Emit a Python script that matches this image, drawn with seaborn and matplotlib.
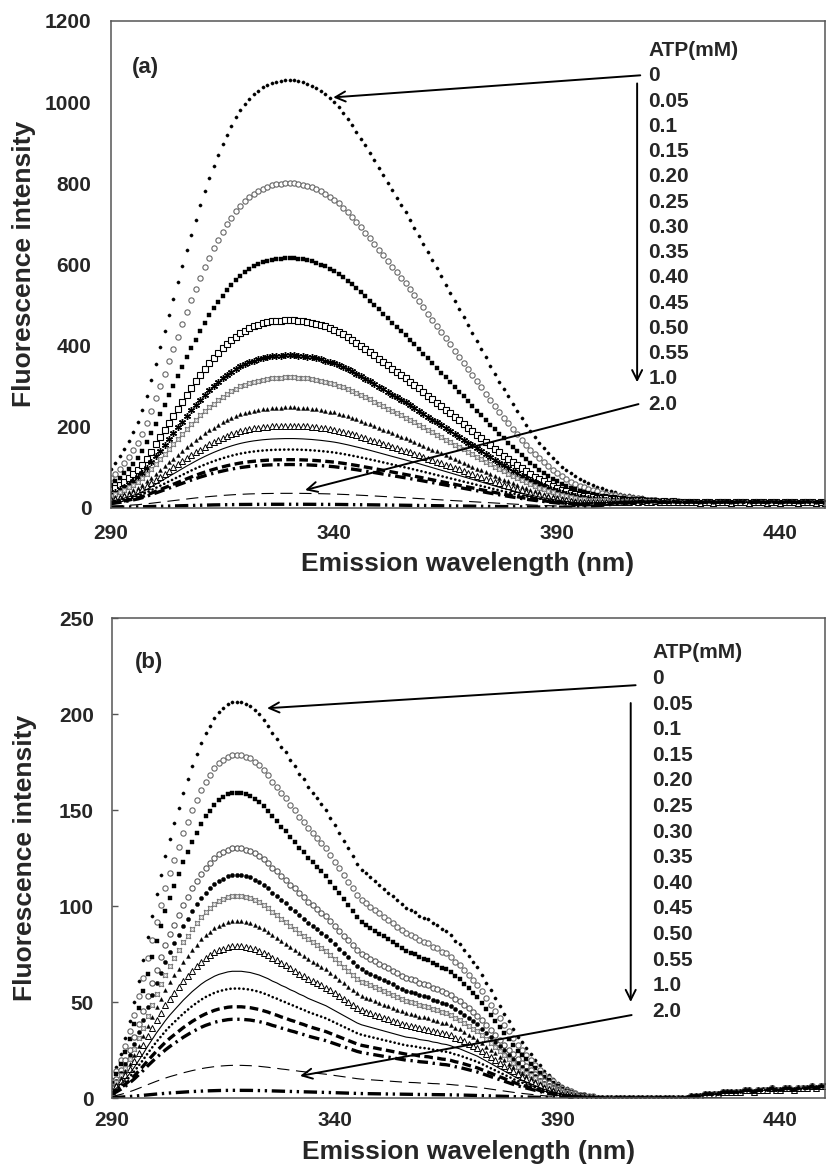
import numpy as np
import matplotlib
matplotlib.use("Agg")
import matplotlib.pyplot as plt
import seaborn as sns

# ---------------- data ----------------
wavelength = np.arange(290, 451)          # nm, 1 nm steps (290..450)
atp_labels = ["0", "0.05", "0.1", "0.15", "0.20", "0.25", "0.30", "0.35",
              "0.40", "0.45", "0.50", "0.55", "1.0", "2.0"]

# peak fluorescence of every ATP concentration
a_peak = [1054, 800, 615, 462, 375, 321, 247, 202, 170, 143, 118, 106, 35, 8]
b_peak = [206, 178.6, 159, 130, 116, 105, 92, 79, 66, 57, 47.5, 41, 17, 4]

# emission profile, panel (a), 290..420 nm
a_shape_vals = [
    96, 110, 126, 144, 164, 186, 210, 240, 275, 315,
    355, 395, 435, 475, 515, 555, 595, 635, 673, 710,
    746, 780, 812, 842, 870, 896, 920, 942, 962, 980,
    995, 1008, 1019, 1028, 1036, 1042, 1047, 1050, 1052, 1054,
    1054, 1054, 1052, 1049, 1045, 1040, 1034, 1027, 1019, 1010,
    1000, 988, 974, 959, 943, 927, 910, 893, 875, 857,
    838, 819, 800, 782, 764, 746, 728, 709, 690, 670,
    650, 630, 610, 590, 570, 550, 530, 510, 490, 470,
    450, 430, 410, 390, 370, 350, 330, 310, 292, 274,
    256, 238, 220, 203, 188, 174, 160, 147, 134, 122,
    111, 101, 92, 84, 77, 70, 64, 58, 52, 47,
    42, 37, 33, 29, 25, 22, 19, 16, 14, 12,
    10, 8, 7, 6, 5, 4, 3, 3, 2, 2, 1]
# noise floor shared by all curves in (a), 396..450 nm
a_floor_vals = [1, 2, 3, 4, 5, 6, 7, 8, 9, 10,
                11, 12, 12, 13, 12, 13, 14, 12, 13, 12,
                14, 13, 12, 13, 14, 13, 12, 13, 14, 12,
                13, 13, 14, 12, 13, 14, 13, 12, 13, 14,
                13, 12, 14, 13, 12, 13, 14, 13, 12, 13,
                14, 13, 12, 13, 12]

# emission profile, panel (b), 290..399 nm
b_shape_vals = [
    10, 16, 23, 31, 40, 50, 61, 72, 84, 95,
    106, 116, 126, 135, 143, 151, 159, 166, 173, 179,
    185, 190, 194, 198, 201, 203, 205, 206, 206, 206,
    205, 204, 202, 200, 197, 194, 190, 187, 183, 180,
    176, 173, 169, 166, 162, 159, 156, 153, 150, 146,
    142, 138, 134, 130, 126, 122, 119, 117, 115, 113,
    111, 109, 107, 105, 103, 101, 99, 98, 97, 95,
    94, 93, 91, 90, 88, 87, 85, 82, 80, 77,
    74, 71, 68, 64, 60, 56, 52, 48, 44, 40,
    36, 32, 29, 26, 23, 20, 17, 14, 12, 10,
    8, 6, 5, 4, 3, 2, 2, 1, 1, 0]
# noise floor shared by all curves in (b), 420..450 nm
b_floor_vals = [1, 1, 1, 2, 2, 2, 2, 3, 3, 3,
                3, 3, 4, 4, 3, 4, 4, 4, 5, 4,
                4, 5, 5, 4, 5, 5, 5, 6, 5, 6, 6]

x_ticks = [290, 340, 390, 440]
a_yticks = [0, 200, 400, 600, 800, 1000, 1200]
b_yticks = [0, 50, 100, 150, 200, 250]


def place(vals, start):
    """put a list of values measured from wavelength `start` onto the full grid"""
    out = np.zeros(len(wavelength))
    i0 = int(start - wavelength[0])
    v = np.asarray(vals, dtype=float)[: len(wavelength) - i0]
    out[i0:i0 + len(v)] = v
    return out


a_shape = place(a_shape_vals, 290)
a_shape /= a_shape.max()
a_floor = place(a_floor_vals, 396)
b_shape = place(b_shape_vals, 290)
b_shape /= b_shape.max()
b_floor = place(b_floor_vals, 420)

# ---------------- styles ----------------
def mk(marker, ms, fc, ec, mew=0.6):
    return dict(linestyle="none", marker=marker, markersize=ms,
                markerfacecolor=fc, markeredgecolor=ec, markeredgewidth=mew,
                color=ec)


def ln(ls, lw, cap="butt"):
    return dict(linestyle=ls, linewidth=lw, color="black",
                dash_capstyle=cap, marker=None)


styles_common = [
    mk("o", 2.3, "black", "black", 0.3),
    mk("o", 3.8, "white", "#666666", 0.8),
    mk("s", 2.8, "black", "black", 0.3),
    None,
    None,
    mk((4, 1, 45), 4.6, "white", "#777777", 0.8),
    mk("^", 2.8, "black", "black", 0.3),
    mk("^", 4.2, "white", "black", 0.7),
    ln("-", 0.8),
    ln((0, (0.05, 1.6)), 1.9, "round"),
    ln((0, (2.6, 1.3)), 2.4),
    ln((0, (3.2, 1.4, 0.7, 1.4)), 2.4),
    ln((0, (11, 6)), 0.8),
    ln((0, (4, 1.4, 0.7, 1.4, 0.7, 1.4)), 2.4),
]
styles_a = list(styles_common)
styles_a[3] = mk("s", 4.2, "white", "black", 0.8)
styles_a[4] = mk((6, 2, 0), 5.0, "black", "black", 1.0)
styles_b = list(styles_common)
styles_b[3] = mk("o", 3.8, "white", "#555555", 0.8)
styles_b[4] = mk("o", 3.0, "black", "black", 0.3)

# ---------------- figure ----------------
sns.set_theme(style="white")
plt.rcParams["font.family"] = ["Liberation Sans", "DejaVu Sans"]
plt.rcParams["font.weight"] = "bold"
plt.rcParams["axes.labelweight"] = "bold"

fig = plt.figure(figsize=(8.26, 11.74), dpi=100)
W, H = 826.0, 1174.0
ax_a = fig.add_axes([111 / W, 1 - 507.5 / H, (825 - 111) / W, (507.5 - 21) / H])
ax_b = fig.add_axes([112 / W, 1 - 1098 / H, (825 - 112) / W, (1098 - 618) / H])

panels = [
    (ax_a, a_peak, a_shape, a_floor, styles_a, (0, 1200), a_yticks, "(a)"),
    (ax_b, b_peak, b_shape, b_floor, styles_b, (0, 250), b_yticks, "(b)"),
]

for ax, peaks, shape, floor, styles, ylim, yticks, tag in panels:
    for i, lab in enumerate(atp_labels):
        y = peaks[i] * shape + floor
        sns.lineplot(x=wavelength, y=y, ax=ax, errorbar=None, sort=False,
                     legend=False, **styles[i])
    ax.set_xlim(290, 450)
    ax.set_ylim(*ylim)
    ax.set_xticks(x_ticks)
    ax.set_yticks(yticks)
    ax.set_xticklabels([str(t) for t in x_ticks])
    ax.set_yticklabels([str(t) for t in yticks])
    for s in ax.spines.values():
        s.set_color("#555555")
        s.set_linewidth(1.1)
    ax.set_xlabel("Emission wavelength (nm)", fontsize=19, fontweight="bold")
    ax.set_ylabel("Fluorescence intensity", fontsize=19, fontweight="bold")

# tick appearance
ax_a.tick_params(axis="y", length=0, pad=14, labelsize=15)
ax_a.tick_params(axis="x", length=0, pad=12, labelsize=15)
ax_b.tick_params(axis="y", direction="in", length=4.5, width=1, color="#555555",
                 pad=13, labelsize=15, left=True)
ax_b.tick_params(axis="x", length=0, pad=9, labelsize=15)

ax_a.yaxis.set_label_coords(-0.105, 0.5)
ax_b.yaxis.set_label_coords(-0.105, 0.5)
ax_a.xaxis.set_label_coords(0.5, -0.092)
ax_b.xaxis.set_label_coords(0.5, -0.088)

# panel tags
ax_a.text(294.7, 1085, "(a)", fontsize=16, fontweight="bold", va="center", ha="left")
ax_b.text(295.2, 227, "(b)", fontsize=16, fontweight="bold", va="center", ha="left")

# concentration list and arrows
arrow_kw = dict(arrowstyle="->", lw=1.4, color="black", mutation_scale=18,
                shrinkA=0, shrinkB=0)


def conc_list(ax, x0, y_title, step):
    ax.text(x0, y_title, "ATP(mM)", fontsize=15, fontweight="bold",
            va="center", ha="left")
    for k, lab in enumerate(atp_labels):
        ax.text(x0, y_title - step * (k + 1), lab, fontsize=15,
                fontweight="bold", va="center", ha="left")


conc_list(ax_a, 410.4, 1127, 62.3)
ax_a.annotate("", xy=(339.8, 1011.6), xytext=(408.6, 1066), arrowprops=arrow_kw)
ax_a.annotate("", xy=(407.9, 309), xytext=(407.9, 1046), arrowprops=arrow_kw)
ax_a.annotate("", xy=(333.5, 43), xytext=(408.2, 255), arrowprops=arrow_kw)

conc_list(ax_b, 411.3, 231.8, 13.33)
ax_b.annotate("", xy=(324.8, 203), xytext=(407.5, 215), arrowprops=arrow_kw)
ax_b.annotate("", xy=(406.4, 50), xytext=(406.4, 205.7), arrowprops=arrow_kw)
ax_b.annotate("", xy=(332.2, 11.5), xytext=(406.6, 43.2), arrowprops=arrow_kw)

fig.savefig("out.png", dpi=100, facecolor="white")
